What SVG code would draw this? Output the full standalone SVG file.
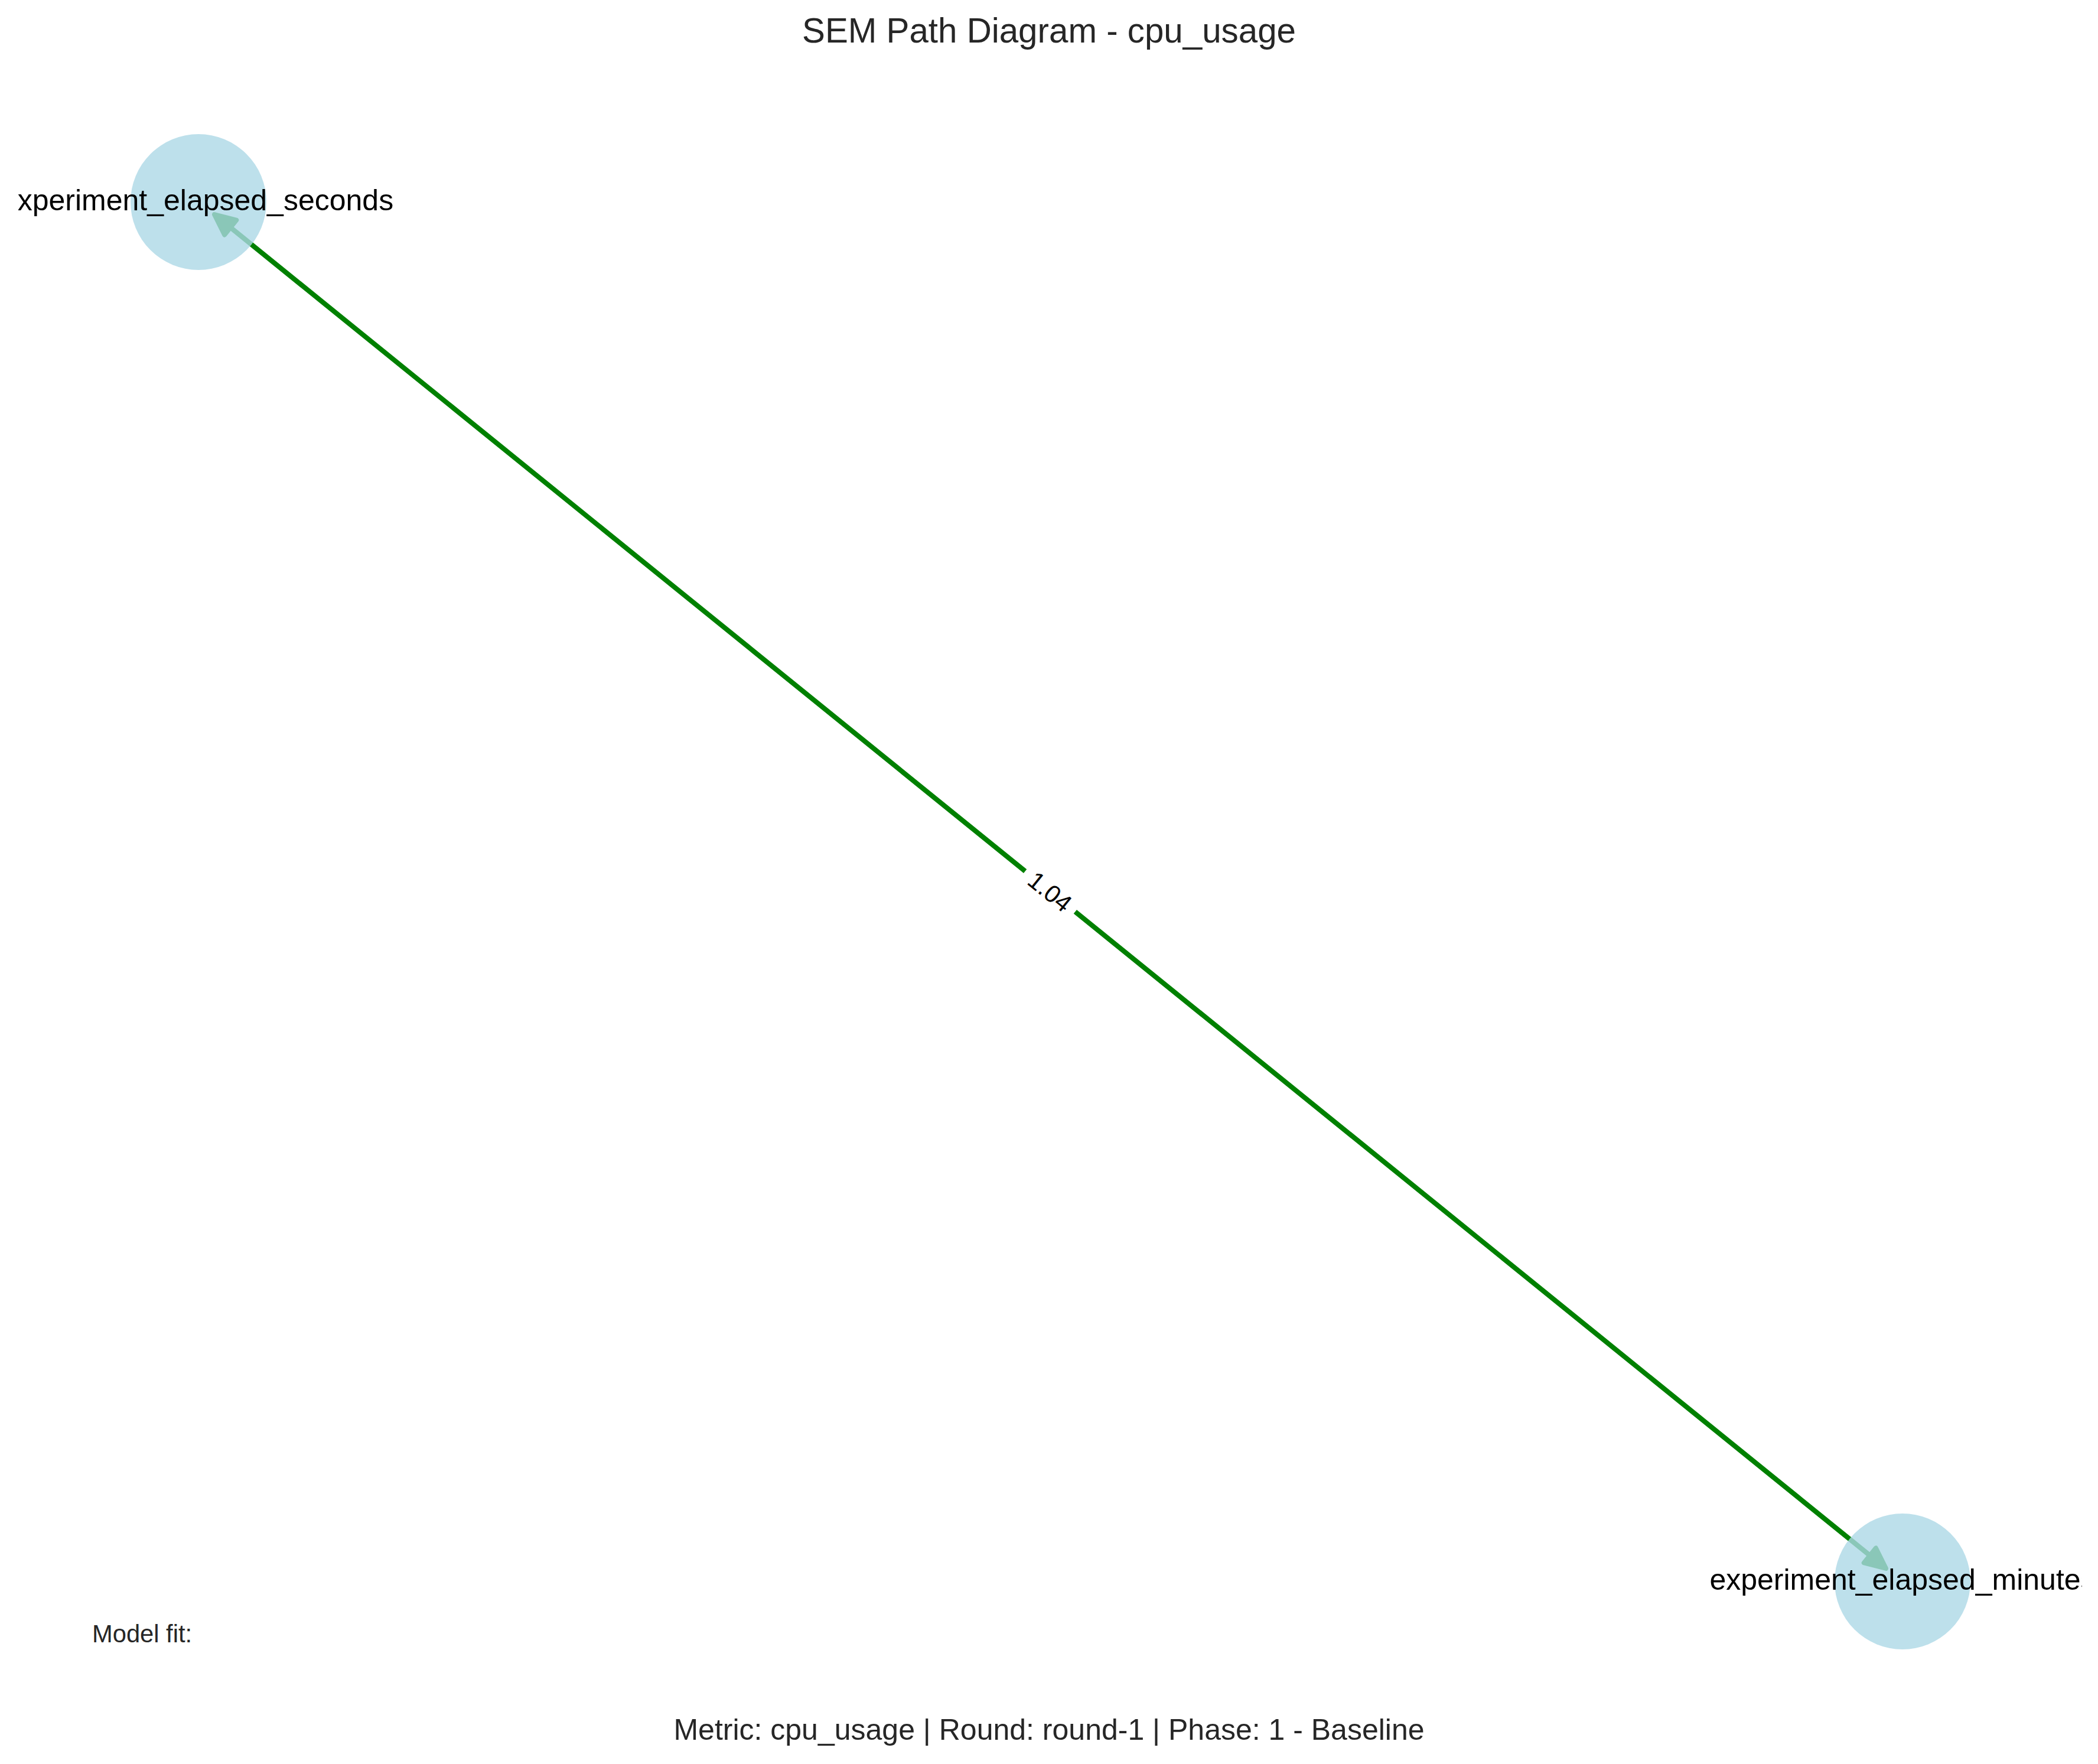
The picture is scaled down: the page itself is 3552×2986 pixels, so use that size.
<svg xmlns="http://www.w3.org/2000/svg" width="3552" height="2986" viewBox="0 0 3552 2986">
  <style>
    .title { font-family: "Liberation Sans", Arial, sans-serif; font-size: 58.3px; fill: #262626; text-anchor: middle; }
    .nodelabel { font-family: "Liberation Sans", Arial, sans-serif; font-size: 50px; fill: #000000; text-anchor: middle; }
    .edgelabel { font-family: "Liberation Sans", Arial, sans-serif; font-size: 41.7px; fill: #000000; text-anchor: middle; }
    .note { font-family: "Liberation Sans", Arial, sans-serif; font-size: 41.7px; fill: #262626; }
    .footer { font-family: "Liberation Sans", Arial, sans-serif; font-size: 50px; fill: #262626; text-anchor: middle; }
    .node { fill: #ADD8E6; fill-opacity: 0.8; stroke: none; }
    .edge { stroke: #008000; stroke-width: 8.3; fill: none; marker-start: url(#arrow); marker-end: url(#arrow); }
  </style>
  <defs>
    <marker id="arrow" markerUnits="userSpaceOnUse" orient="auto-start-reverse" refX="0" refY="0" markerWidth="100" markerHeight="100" viewBox="-60 -50 100 100" overflow="visible">
      <path d="M0,0 L-35,-16 L-35,16 Z" fill="#008000" stroke="#008000" stroke-width="8" stroke-linejoin="round"/>
    </marker>
    <clipPath id="axesclip">
      <rect x="31" y="0" width="3494" height="2986"/>
    </clipPath>
  </defs>
  <rect x="0" y="0" width="3552" height="2986" fill="#ffffff"/>
  <text class="title" x="1776" y="72">SEM Path Diagram - cpu_usage</text>

  <g id="connectors">
    <path class="edge" d="M363,363 L3193,2655"/>
    <g id="edge-label" transform="translate(1778,1509) rotate(39)">
      <rect x="-54" y="-26" width="108" height="52" rx="10" ry="10" fill="#ffffff" stroke="#ffffff"/>
      <text class="edgelabel" x="0" y="15">1.04</text>
    </g>
  </g>

  <g id="node-experiment_elapsed_seconds">
    <circle class="node" cx="336" cy="342" r="115"/>
    <text class="nodelabel" x="334" y="356" clip-path="url(#axesclip)">experiment_elapsed_seconds</text>
  </g>

  <g id="node-experiment_elapsed_minutes">
    <circle class="node" cx="3221" cy="2677" r="115"/>
    <text class="nodelabel" x="3221" y="2691" clip-path="url(#axesclip)">experiment_elapsed_minutes</text>
  </g>

  <text class="note" x="156" y="2780">Model fit:</text>
  <text class="footer" x="1776" y="2945">Metric: cpu_usage | Round: round-1 | Phase: 1 - Baseline</text>
</svg>
